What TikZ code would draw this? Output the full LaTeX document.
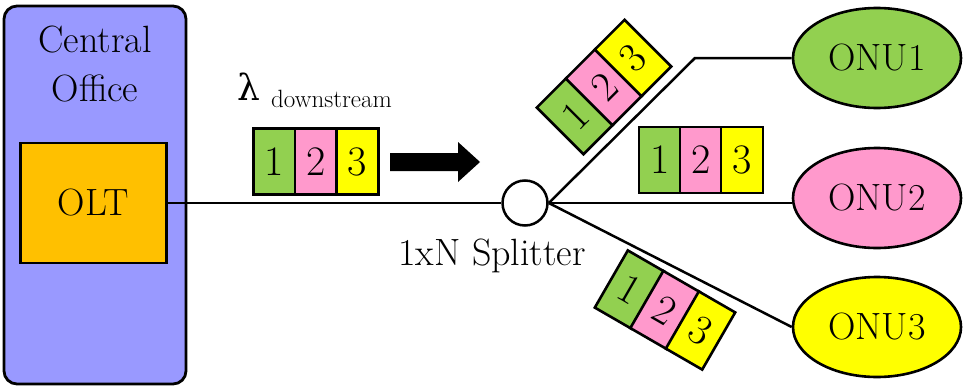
\documentclass[tikz,border=0pt]{standalone}
\usepackage{fontspec}
\newfontfamily\greekserif{DejaVu Serif}
\usetikzlibrary{shapes.geometric}

\definecolor{coblue}{HTML}{9999FF}
\definecolor{oltorange}{HTML}{FFC000}
\definecolor{pgreen}{HTML}{92D050}
\definecolor{ppink}{HTML}{FF99CC}
\definecolor{pyellow}{HTML}{FFFF00}

\tikzset{
  bigtext/.style={font=\fontsize{38}{46}\selectfont},
  cell/.style={draw, line width=2.6pt, minimum width=42pt, minimum height=66pt,
    inner sep=0pt, font=\fontsize{42}{48}\selectfont, transform shape},
  onu/.style={ellipse, draw, line width=2.6pt, minimum width=168pt,
    minimum height=100pt, inner sep=0pt, bigtext},
  fiber/.style={line width=2.5pt},
}

\begin{document}
\begin{tikzpicture}[x=1pt, y=-1pt]
  \useasboundingbox (0,0) rectangle (963,388);

  % central office with its OLT
  \node[draw, line width=2.8pt, fill=coblue, rounded corners=13pt,
        minimum width=182pt, minimum height=378pt] (co) at (95,195) {};
  \node[bigtext, align=center, inner sep=0pt] (cotext) at (95,64)
    {Central\\[3pt]Office};
  \node[draw, line width=2.6pt, fill=oltorange, minimum width=146pt,
        minimum height=120pt, inner sep=0pt, bigtext] (olt) at (93.5,203) {OLT};

  % 1xN splitter
  \node[circle, draw, line width=2.5pt, fill=white, minimum size=45pt,
        inner sep=0pt] (split) at (525,203) {};
  \node[bigtext, anchor=base, inner sep=0pt] (splitlbl) at (492,265) {1xN Splitter};

  % ONUs
  \node[onu, fill=pgreen]  (onu1) at (877,58)  {ONU1};
  \node[onu, fill=ppink]   (onu2) at (877,198) {ONU2};
  \node[onu, fill=pyellow] (onu3) at (877,327) {ONU3};

  % fibers
  \coordinate (bend1) at (695,58);
  \draw[fiber] (olt.east) -- (split.west);
  \draw[fiber] (split.east) -- (bend1) -- (onu1.west);
  \draw[fiber] (split.east) -- (split.east -| onu2.west);
  \draw[fiber] (split.east) -- (onu3.west);

  % downstream label
  \node[font=\greekserif\fontsize{36}{40}\selectfont, anchor=base west,
        inner sep=0pt] (lam) at (237,100) {λ};
  \node[font=\fontsize{25}{30}\selectfont, anchor=base west, inner sep=0pt]
    (ds) at (271,107) {downstream};

  % downstream frames on the feeder
  \node[cell, fill=pgreen]  (f1) at (274.5,161.5) {1};
  \node[cell, fill=ppink]   (f2) at (316,161.5)   {2};
  \node[cell, fill=pyellow] (f3) at (357.5,161.5) {3};

  % direction arrow
  \fill (390,153) -- (458,153) -- (458,142) -- (480,162) -- (458,182)
        -- (458,171) -- (390,171) -- cycle;

  % frames on the branch to ONU1
  \begin{scope}[shift={(604,87)}, rotate=45]
    \node[cell, fill=pgreen]  (a1) at (-41,0) {1};
    \node[cell, fill=ppink]   (a2) at (0,0)   {2};
    \node[cell, fill=pyellow] (a3) at (41,0)  {3};
  \end{scope}

  % frames on the branch to ONU2
  \node[cell, fill=pgreen]  (b1) at (660,160) {1};
  \node[cell, fill=ppink]   (b2) at (701,160) {2};
  \node[cell, fill=pyellow] (b3) at (742,160) {3};

  % frames on the branch to ONU3
  \begin{scope}[shift={(665,310)}, rotate=-30]
    \node[cell, fill=pgreen]  (c1) at (-41,0) {1};
    \node[cell, fill=ppink]   (c2) at (0,0)   {2};
    \node[cell, fill=pyellow] (c3) at (41,0)  {3};
  \end{scope}
\end{tikzpicture}
\end{document}
